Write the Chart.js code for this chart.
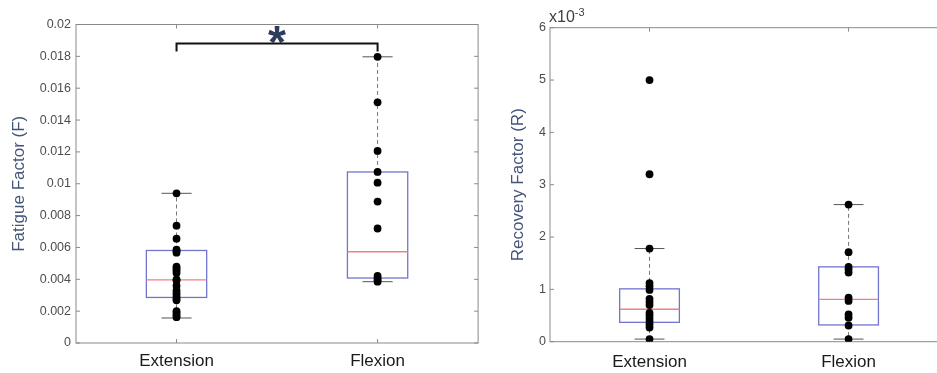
<!DOCTYPE html>
<html>
<head>
<meta charset="utf-8">
<script src="https://cdn.jsdelivr.net/npm/chart.js@4"></script>
<style>
  html, body { margin: 0; padding: 0; background: #fff; }
  body { width: 937px; height: 373px; overflow: hidden; position: relative; }
  canvas { position: absolute; top: 0; }
  #chartF { left: 0; }
  #chartR { left: 470px; }
</style>
</head>
<body>
<canvas id="chartF" width="482" height="373"></canvas>
<canvas id="chartR" width="482" height="373"></canvas>
<script>
const groups = ["Extension", "Flexion"];

// Fatigue factor (F)
const fatigueExtension = [0.0094, 0.00737, 0.00655, 0.00586, 0.00577, 0.00567, 0.0048, 0.00468, 0.00455, 0.0044,
    0.004, 0.00393, 0.0036, 0.0033, 0.00312, 0.00295, 0.0028, 0.00268, 0.002, 0.00188, 0.00175, 0.00162];
const fatigueFlexion = [0.01797, 0.01511, 0.01206, 0.01074, 0.01007, 0.00888, 0.00719, 0.00422, 0.00408, 0.00396, 0.00385];
// [whisker low, q1, median, q3, whisker high]
const fatigueExtensionBox = [0.00157, 0.00286, 0.00397, 0.00581, 0.0094];
const fatigueFlexionBox = [0.00385, 0.00408, 0.00573, 0.01074, 0.01797];
const fatigueTicks = [0, 0.002, 0.004, 0.006, 0.008, 0.01, 0.012, 0.014, 0.016, 0.018, 0.02];
const fatigueBracket = [0.0183, 0.0188]; // leg end, bar level

// Recovery factor (R), in units of 1e-3
const recoveryExtension = [5.0, 3.2, 1.78, 1.12, 1.06, 0.99, 0.82, 0.76, 0.7, 0.55, 0.5, 0.44, 0.38, 0.33, 0.27, 0.05];
const recoveryFlexion = [2.62, 1.71, 1.43, 1.38, 1.32, 0.84, 0.78, 0.52, 0.46, 0.31, 0.05];
const recoveryExtensionBox = [0.05, 0.37, 0.62, 1.01, 1.78];
const recoveryFlexionBox = [0.05, 0.32, 0.81, 1.43, 2.62];
const recoveryTicks = [0, 1, 2, 3, 4, 5, 6];

const FONT = "Liberation Sans, Arial, sans-serif";
const FRAME = "#8a8a8a";

const toPoints = (vals, x) => vals.map(v => ({ x, y: v }));

const boxPlugin = {
    id: "boxes",
    beforeDatasetsDraw(chart, args, opts) {
        const { ctx, chartArea: a, scales: { x, y } } = chart;
        ctx.save();
        opts.boxes.forEach((b, i) => {
            const cx = x.getPixelForValue(i + 1);
            const bw = x.getPixelForValue(1.15) - x.getPixelForValue(1);
            const cw = x.getPixelForValue(1.075) - x.getPixelForValue(1);
            const [lo, q1, med, q3, hi] = b.map(v => y.getPixelForValue(v));
            // whiskers
            ctx.strokeStyle = "#777";
            ctx.lineWidth = 1;
            ctx.setLineDash([4, 3]);
            ctx.beginPath();
            ctx.moveTo(cx, q3); ctx.lineTo(cx, hi);
            ctx.moveTo(cx, q1); ctx.lineTo(cx, lo);
            ctx.stroke();
            ctx.setLineDash([]);
            ctx.strokeStyle = "#555";
            ctx.beginPath();
            ctx.moveTo(cx - cw, hi); ctx.lineTo(cx + cw, hi);
            ctx.moveTo(cx - cw, lo); ctx.lineTo(cx + cw, lo);
            ctx.stroke();
            // box
            ctx.strokeStyle = "rgb(112,118,206)";
            ctx.lineWidth = 1.3;
            ctx.strokeRect(cx - bw, q3, 2 * bw, q1 - q3);
            ctx.strokeStyle = "rgb(240,128,128)";
            ctx.lineWidth = 1.3;
            ctx.beginPath();
            ctx.moveTo(cx - bw, med); ctx.lineTo(cx + bw, med);
            ctx.stroke();
        });
        // frame with inward ticks
        ctx.strokeStyle = FRAME;
        ctx.lineWidth = 1;
        ctx.strokeRect(a.left, a.top, a.right - a.left, a.bottom - a.top);
        ctx.beginPath();
        y.ticks.forEach(t => {
            const py = y.getPixelForValue(t.value);
            ctx.moveTo(a.left, py); ctx.lineTo(a.left + 4, py);
            ctx.moveTo(a.right, py); ctx.lineTo(a.right - 4, py);
        });
        x.ticks.forEach(t => {
            const px = x.getPixelForValue(t.value);
            ctx.moveTo(px, a.top); ctx.lineTo(px, a.top + 4);
            ctx.moveTo(px, a.bottom); ctx.lineTo(px, a.bottom - 4);
        });
        ctx.stroke();
        ctx.restore();
    },
    afterDraw(chart, args, opts) {
        const { ctx, chartArea: a, scales: { x, y } } = chart;
        ctx.save();
        if (opts.bracket) {
            const x1 = x.getPixelForValue(1), x2 = x.getPixelForValue(2);
            const yb = y.getPixelForValue(opts.bracket[1]);
            const yl = y.getPixelForValue(opts.bracket[0]);
            ctx.strokeStyle = "#111";
            ctx.lineWidth = 2;
            ctx.beginPath();
            ctx.moveTo(x1, yl); ctx.lineTo(x1, yb); ctx.lineTo(x2, yb); ctx.lineTo(x2, yl);
            ctx.stroke();
            ctx.fillStyle = "#2e3d5a";
            ctx.font = "bold 46px " + FONT;
            ctx.textAlign = "center";
            ctx.textBaseline = "alphabetic";
            const m = ctx.measureText("*");
            const cy = yb - 8.5;
            const base = cy - (m.actualBoundingBoxDescent - m.actualBoundingBoxAscent) / 2;
            ctx.fillText("*", (x1 + x2) / 2, base);
        }
        if (opts.exponent) {
            ctx.fillStyle = "#404040";
            ctx.textAlign = "left";
            ctx.textBaseline = "alphabetic";
            ctx.font = "16px " + FONT;
            ctx.fillText("x10", a.left - 1, 22);
            const w = ctx.measureText("x10").width;
            ctx.font = "11px " + FONT;
            ctx.fillText(opts.exponent, a.left - 1 + w, 16);
        }
        ctx.restore();
    }
};

function makeChart(id, cfg) {
    return new Chart(document.getElementById(id), {
        type: "scatter",
        data: {
            datasets: [
                { data: toPoints(cfg.ext, 1) },
                { data: toPoints(cfg.flex, 2) }
            ]
        },
        options: {
            responsive: false,
            animation: false,
            layout: { padding: { top: cfg.top, right: 3, left: 0, bottom: 0 } },
            elements: {
                point: { radius: 3.9, backgroundColor: "#000", borderWidth: 0, hoverRadius: 3.9 }
            },
            plugins: {
                legend: { display: false },
                tooltip: { enabled: false },
                boxes: { boxes: cfg.boxes, bracket: cfg.bracket, exponent: cfg.exponent }
            },
            scales: {
                x: {
                    type: "linear",
                    min: 0.5,
                    max: 2.5,
                    afterFit: s => { s.height = cfg.xHeight; },
                    afterBuildTicks: s => { s.ticks = groups.map((g, i) => ({ value: i + 1 })); },
                    grid: { display: false, drawTicks: false },
                    border: { display: false },
                    ticks: {
                        callback: (v, i) => groups[i],
                        autoSkip: false,
                        maxRotation: 0,
                        padding: cfg.xPad,
                        color: "#1a1a1a",
                        font: { family: FONT, size: 17 }
                    }
                },
                y: {
                    min: cfg.yTicks[0],
                    max: cfg.yTicks[cfg.yTicks.length - 1],
                    afterFit: s => { s.width = cfg.yWidth; },
                    afterBuildTicks: s => { s.ticks = cfg.yTicks.map(v => ({ value: v })); },
                    grid: { display: false, drawTicks: false },
                    border: { display: false },
                    ticks: {
                        callback: v => String(+v.toFixed(4)),
                        padding: cfg.yPad,
                        color: "#4d4d4d",
                        font: { family: FONT, size: 12.5 }
                    },
                    title: {
                        display: true,
                        text: cfg.title,
                        color: "#45557a",
                        padding: { top: cfg.titlePad, bottom: 0 },
                        font: { family: FONT, size: 17 }
                    }
                }
            }
        },
        plugins: [boxPlugin]
    });
}

makeChart("chartF", {
    ext: fatigueExtension, flex: fatigueFlexion,
    boxes: [fatigueExtensionBox, fatigueFlexionBox],
    yTicks: fatigueTicks, bracket: fatigueBracket,
    title: "Fatigue Factor (F)",
    top: 24.5, xHeight: 30, yWidth: 76, xPad: 8, yPad: 5, titlePad: 9
});

makeChart("chartR", {
    ext: recoveryExtension, flex: recoveryFlexion,
    boxes: [recoveryExtensionBox, recoveryFlexionBox],
    yTicks: recoveryTicks, exponent: "-3",
    title: "Recovery Factor (R)",
    top: 27.7, xHeight: 31.3, yWidth: 80, xPad: 10, yPad: 4, titlePad: 38
});
</script>
</body>
</html>
